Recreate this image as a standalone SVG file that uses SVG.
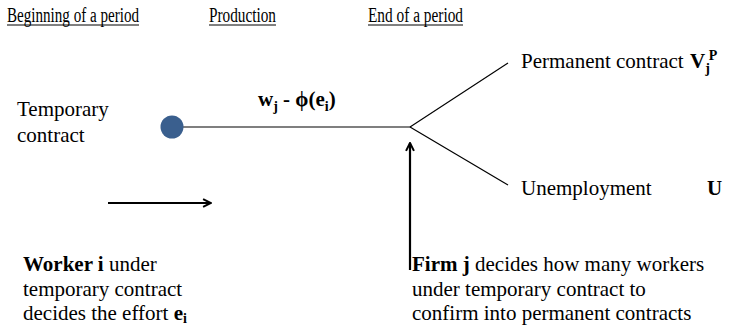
<svg xmlns="http://www.w3.org/2000/svg" width="734" height="329" viewBox="0 0 734 329" font-family="'Liberation Serif', 'DejaVu Serif', serif">
<defs>
<style>
text{font-family:'Liberation Serif','DejaVu Serif',serif;fill:#000;}
.h{font-size:20px;}
.t{font-size:21px;}
.b{font-weight:bold;}
.ln{stroke:#000;stroke-width:1.2;fill:none;}
.ar{stroke:#000;stroke-width:2.2;fill:none;}
</style>
<marker id="ah" viewBox="0 0 10 10" refX="9" refY="5" markerWidth="4.5" markerHeight="4.5" orient="auto" markerUnits="strokeWidth">
<path d="M1,1 L9,5 L1,9" fill="none" stroke="#000" stroke-width="2"/>
</marker>
</defs>
<rect width="734" height="329" fill="#fff"/>
<g id="headers">
<text class="h" x="7" y="21.5" textLength="132" lengthAdjust="spacingAndGlyphs">Beginning of a period</text>
<line x1="7" y1="25" x2="139" y2="25" stroke="#000" stroke-width="1"/>
<text class="h" x="209" y="21.5" textLength="67" lengthAdjust="spacingAndGlyphs">Production</text>
<line x1="209" y1="25" x2="276" y2="25" stroke="#000" stroke-width="1"/>
<text class="h" x="368" y="21.5" textLength="95" lengthAdjust="spacingAndGlyphs">End of a period</text>
<line x1="368" y1="25" x2="463" y2="25" stroke="#000" stroke-width="1"/>
</g>
<g id="connectors">
<line class="ln" x1="182" y1="127" x2="410" y2="127"/>
<line class="ln" x1="410" y1="127" x2="508" y2="63"/>
<line class="ln" x1="410" y1="127" x2="508" y2="185"/>
<line class="ar" x1="108" y1="203" x2="211" y2="203" marker-end="url(#ah)"/>
<line class="ar" x1="410" y1="270" x2="410" y2="143" marker-end="url(#ah)"/>
</g>
<g id="start">
<circle cx="172" cy="127" r="11.5" fill="#3A5F8E"/>
<text class="t" x="17" y="116">Temporary</text>
<text class="t" x="17" y="142">contract</text>
</g>
<g id="production-label">
<text class="t b" x="258" y="106">w<tspan font-size="14" dy="5">j</tspan><tspan dy="-5"> - ϕ(e</tspan><tspan font-size="14" dy="5">i</tspan><tspan dy="-5">)</tspan></text>
</g>
<g id="permanent">
<text class="t" x="521" y="68">Permanent contract</text>
<text class="t b" x="690" y="68">V<tspan font-size="14" dy="5">j</tspan><tspan font-size="14" dx="-1" dy="-13">P</tspan></text>
</g>
<g id="unemployment">
<text class="t" x="521" y="195">Unemployment</text>
<text class="t b" x="707" y="195">U</text>
</g>
<g id="worker">
<text class="t" x="23" y="271"><tspan class="b">Worker i</tspan> under</text>
<text class="t" x="23" y="296">temporary contract</text>
<text class="t" x="23" y="320">decides the effort <tspan class="b">e</tspan><tspan class="b" font-size="14" dy="3">i</tspan></text>
</g>
<g id="firm">
<text class="t" x="412" y="271"><tspan class="b">Firm j</tspan> decides how many workers</text>
<text class="t" x="412" y="296">under temporary contract to</text>
<text class="t" x="412" y="320">confirm into permanent  contracts</text>
</g>
</svg>
